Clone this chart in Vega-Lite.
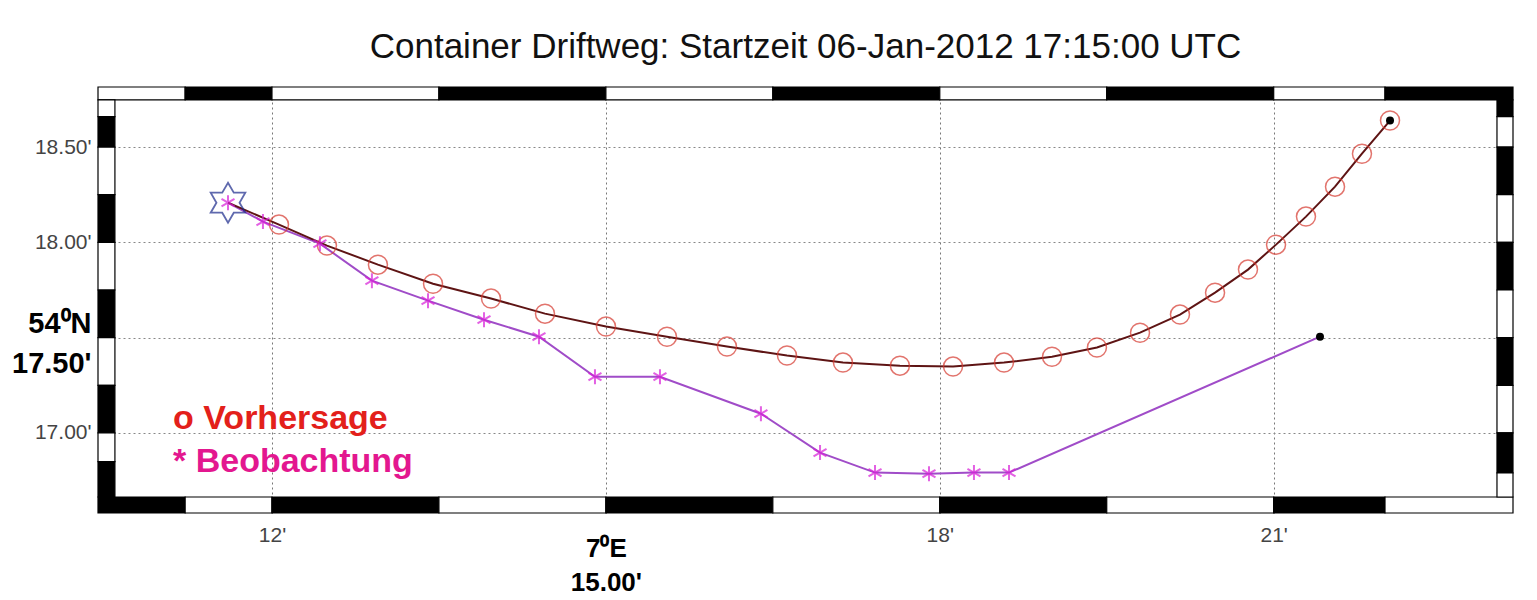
{
  "$schema": "https://vega.github.io/schema/vega-lite/v6.json",
  "width": 1415,
  "height": 426,
  "autosize": {"type": "none"},
  "padding": {"left": 98, "top": 87, "right": 24, "bottom": 87},
  "background": "white",
  "config": {"view": {"stroke": null}, "font": "Liberation Sans"},
  "title": {
    "text": "Container Driftweg: Startzeit 06-Jan-2012 17:15:00 UTC",
    "font": "Liberation Sans",
    "fontSize": 35,
    "fontWeight": "normal",
    "color": "#111111",
    "anchor": "middle",
    "baseline": "alphabetic",
    "offset": -7
  },
  "datasets": {
    "track": [
      {"series": "Vorhersage", "step": 0, "lon": 11.605, "lat": 18.208},
      {"series": "Vorhersage", "step": 1, "lon": 12.063, "lat": 18.093},
      {"series": "Vorhersage", "step": 2, "lon": 12.494, "lat": 17.983},
      {"series": "Vorhersage", "step": 3, "lon": 12.952, "lat": 17.883},
      {"series": "Vorhersage", "step": 4, "lon": 13.447, "lat": 17.783},
      {"series": "Vorhersage", "step": 5, "lon": 13.968, "lat": 17.705},
      {"series": "Vorhersage", "step": 6, "lon": 14.453, "lat": 17.626},
      {"series": "Vorhersage", "step": 7, "lon": 15.001, "lat": 17.558},
      {"series": "Vorhersage", "step": 8, "lon": 15.549, "lat": 17.505},
      {"series": "Vorhersage", "step": 9, "lon": 16.088, "lat": 17.453},
      {"series": "Vorhersage", "step": 10, "lon": 16.627, "lat": 17.406},
      {"series": "Vorhersage", "step": 11, "lon": 17.13, "lat": 17.369},
      {"series": "Vorhersage", "step": 12, "lon": 17.642, "lat": 17.353},
      {"series": "Vorhersage", "step": 13, "lon": 18.119, "lat": 17.348},
      {"series": "Vorhersage", "step": 14, "lon": 18.577, "lat": 17.369},
      {"series": "Vorhersage", "step": 15, "lon": 19.008, "lat": 17.4},
      {"series": "Vorhersage", "step": 16, "lon": 19.412, "lat": 17.448},
      {"series": "Vorhersage", "step": 17, "lon": 19.799, "lat": 17.526},
      {"series": "Vorhersage", "step": 18, "lon": 20.158, "lat": 17.621},
      {"series": "Vorhersage", "step": 19, "lon": 20.473, "lat": 17.736},
      {"series": "Vorhersage", "step": 20, "lon": 20.769, "lat": 17.857},
      {"series": "Vorhersage", "step": 21, "lon": 21.021, "lat": 17.988},
      {"series": "Vorhersage", "step": 22, "lon": 21.29, "lat": 18.135},
      {"series": "Vorhersage", "step": 23, "lon": 21.551, "lat": 18.292},
      {"series": "Vorhersage", "step": 24, "lon": 21.793, "lat": 18.465},
      {"series": "Vorhersage", "step": 25, "lon": 22.045, "lat": 18.639},
      {"series": "Beobachtung", "step": 0, "lon": 11.605, "lat": 18.208},
      {"series": "Beobachtung", "step": 1, "lon": 11.919, "lat": 18.109},
      {"series": "Beobachtung", "step": 2, "lon": 12.431, "lat": 17.993},
      {"series": "Beobachtung", "step": 3, "lon": 12.898, "lat": 17.799},
      {"series": "Beobachtung", "step": 4, "lon": 13.402, "lat": 17.694},
      {"series": "Beobachtung", "step": 5, "lon": 13.905, "lat": 17.594},
      {"series": "Beobachtung", "step": 6, "lon": 14.399, "lat": 17.505},
      {"series": "Beobachtung", "step": 7, "lon": 14.902, "lat": 17.295},
      {"series": "Beobachtung", "step": 8, "lon": 15.486, "lat": 17.295},
      {"series": "Beobachtung", "step": 9, "lon": 16.393, "lat": 17.101},
      {"series": "Beobachtung", "step": 10, "lon": 16.924, "lat": 16.897},
      {"series": "Beobachtung", "step": 11, "lon": 17.418, "lat": 16.792},
      {"series": "Beobachtung", "step": 12, "lon": 17.903, "lat": 16.786},
      {"series": "Beobachtung", "step": 13, "lon": 18.307, "lat": 16.792},
      {"series": "Beobachtung", "step": 14, "lon": 18.622, "lat": 16.792},
      {"series": "Beobachtung", "step": 15, "lon": 21.416, "lat": 17.505}
    ],
    "frame": [
      {"lon1": 10.437, "lon2": 11.22, "lat1": 18.747, "lat2": 18.815, "band": "light"},
      {"lon1": 11.22, "lon2": 12, "lat1": 18.747, "lat2": 18.815, "band": "dark"},
      {"lon1": 12, "lon2": 13.5, "lat1": 18.747, "lat2": 18.815, "band": "light"},
      {"lon1": 13.5, "lon2": 15, "lat1": 18.747, "lat2": 18.815, "band": "dark"},
      {"lon1": 15, "lon2": 16.5, "lat1": 18.747, "lat2": 18.815, "band": "light"},
      {"lon1": 16.5, "lon2": 18, "lat1": 18.747, "lat2": 18.815, "band": "dark"},
      {"lon1": 18, "lon2": 19.5, "lat1": 18.747, "lat2": 18.815, "band": "light"},
      {"lon1": 19.5, "lon2": 21, "lat1": 18.747, "lat2": 18.815, "band": "dark"},
      {"lon1": 21, "lon2": 22, "lat1": 18.747, "lat2": 18.815, "band": "light"},
      {"lon1": 22, "lon2": 23.15, "lat1": 18.747, "lat2": 18.815, "band": "dark"},
      {"lon1": 10.437, "lon2": 11.22, "lat1": 16.58, "lat2": 16.664, "band": "dark"},
      {"lon1": 11.22, "lon2": 12, "lat1": 16.58, "lat2": 16.664, "band": "light"},
      {"lon1": 12, "lon2": 13.5, "lat1": 16.58, "lat2": 16.664, "band": "dark"},
      {"lon1": 13.5, "lon2": 15, "lat1": 16.58, "lat2": 16.664, "band": "light"},
      {"lon1": 15, "lon2": 16.5, "lat1": 16.58, "lat2": 16.664, "band": "dark"},
      {"lon1": 16.5, "lon2": 18, "lat1": 16.58, "lat2": 16.664, "band": "light"},
      {"lon1": 18, "lon2": 19.5, "lat1": 16.58, "lat2": 16.664, "band": "dark"},
      {"lon1": 19.5, "lon2": 21, "lat1": 16.58, "lat2": 16.664, "band": "light"},
      {"lon1": 21, "lon2": 22, "lat1": 16.58, "lat2": 16.664, "band": "dark"},
      {"lon1": 22, "lon2": 23.15, "lat1": 16.58, "lat2": 16.664, "band": "light"},
      {"lon1": 10.437, "lon2": 10.589, "lat1": 18.66, "lat2": 18.747, "band": "light"},
      {"lon1": 10.437, "lon2": 10.589, "lat1": 18.5, "lat2": 18.66, "band": "dark"},
      {"lon1": 10.437, "lon2": 10.589, "lat1": 18.25, "lat2": 18.5, "band": "light"},
      {"lon1": 10.437, "lon2": 10.589, "lat1": 18, "lat2": 18.25, "band": "dark"},
      {"lon1": 10.437, "lon2": 10.589, "lat1": 17.75, "lat2": 18, "band": "light"},
      {"lon1": 10.437, "lon2": 10.589, "lat1": 17.5, "lat2": 17.75, "band": "dark"},
      {"lon1": 10.437, "lon2": 10.589, "lat1": 17.25, "lat2": 17.5, "band": "light"},
      {"lon1": 10.437, "lon2": 10.589, "lat1": 17, "lat2": 17.25, "band": "dark"},
      {"lon1": 10.437, "lon2": 10.589, "lat1": 16.85, "lat2": 17, "band": "light"},
      {"lon1": 10.437, "lon2": 10.589, "lat1": 16.664, "lat2": 16.85, "band": "dark"},
      {"lon1": 23.006, "lon2": 23.15, "lat1": 18.66, "lat2": 18.747, "band": "dark"},
      {"lon1": 23.006, "lon2": 23.15, "lat1": 18.5, "lat2": 18.66, "band": "light"},
      {"lon1": 23.006, "lon2": 23.15, "lat1": 18.25, "lat2": 18.5, "band": "dark"},
      {"lon1": 23.006, "lon2": 23.15, "lat1": 18, "lat2": 18.25, "band": "light"},
      {"lon1": 23.006, "lon2": 23.15, "lat1": 17.75, "lat2": 18, "band": "dark"},
      {"lon1": 23.006, "lon2": 23.15, "lat1": 17.5, "lat2": 17.75, "band": "light"},
      {"lon1": 23.006, "lon2": 23.15, "lat1": 17.25, "lat2": 17.5, "band": "dark"},
      {"lon1": 23.006, "lon2": 23.15, "lat1": 17, "lat2": 17.25, "band": "light"},
      {"lon1": 23.006, "lon2": 23.15, "lat1": 16.79, "lat2": 17, "band": "dark"},
      {"lon1": 23.006, "lon2": 23.15, "lat1": 16.664, "lat2": 16.79, "band": "light"}
    ]
  },
  "layer": [
    {
      "data": {"name": "frame"},
      "mark": {"type": "rect", "stroke": "black", "strokeWidth": 1.2},
      "encoding": {
        "x": {
          "field": "lon1", "type": "quantitative",
          "scale": {"domain": [10.437, 23.15], "nice": false, "zero": false},
          "axis": {
            "orient": "bottom", "title": null, "values": [12, 15, 18, 21],
            "grid": true, "gridColor": "#777777", "gridDash": [2, 3], "gridWidth": 1,
            "ticks": false, "domain": false,
            "labelExpr": "datum.value == 15 ? ['7⁰E', '15.00\\''] : datum.value + '\\''",
            "labelFont": "Liberation Sans",
            "labelFontSize": {"condition": {"test": "datum.value == 15", "value": 26}, "value": 21},
            "labelFontWeight": {"condition": {"test": "datum.value == 15", "value": "bold"}, "value": "normal"},
            "labelColor": {"condition": {"test": "datum.value == 15", "value": "#000000"}, "value": "#444444"},
            "labelPadding": {"condition": {"test": "datum.value == 15", "value": 22}, "value": 11},
            "labelBaseline": "top", "labelLineHeight": 34,
            "labelFlush": false, "labelOverlap": false
          }
        },
        "x2": {"field": "lon2"},
        "y": {
          "field": "lat1", "type": "quantitative",
          "scale": {"domain": [16.58, 18.815], "nice": false, "zero": false},
          "axis": {
            "title": null, "values": [17, 17.5, 18, 18.5],
            "grid": true, "gridColor": "#888888", "gridDash": [2, 3], "gridWidth": 1,
            "ticks": false, "domain": false,
            "labelExpr": "datum.value == 17.5 ? ['54⁰N', '17.50\\''] : format(datum.value, '.2f') + '\\''",
            "labelFont": "Liberation Sans",
            "labelFontSize": {"condition": {"test": "datum.value == 17.5", "value": 29}, "value": 21},
            "labelFontWeight": {"condition": {"test": "datum.value == 17.5", "value": "bold"}, "value": "normal"},
            "labelColor": {"condition": {"test": "datum.value == 17.5", "value": "#000000"}, "value": "#444444"},
            "labelOffset": {"condition": {"test": "datum.value == 17.5", "value": -14}, "value": 0},
            "labelPadding": 7, "labelLineHeight": 40,
            "labelFlush": false, "labelOverlap": false
          }
        },
        "y2": {"field": "lat2"},
        "fill": {
          "field": "band", "type": "nominal",
          "scale": {"domain": ["dark", "light"], "range": ["#000000", "#ffffff"]},
          "legend": null
        }
      }
    },
    {
      "data": {"name": "track"},
      "transform": [{"filter": "datum.series == 'Beobachtung'"}],
      "mark": {"type": "line", "color": "#a04cc8", "strokeWidth": 2},
      "encoding": {
        "x": {"field": "lon", "type": "quantitative"},
        "y": {"field": "lat", "type": "quantitative"},
        "order": {"field": "step", "type": "quantitative"}
      }
    },
    {
      "data": {"name": "track"},
      "transform": [{"filter": "datum.series == 'Vorhersage'"}],
      "mark": {"type": "line", "color": "#5e1414", "strokeWidth": 2},
      "encoding": {
        "x": {"field": "lon", "type": "quantitative"},
        "y": {"field": "lat", "type": "quantitative"},
        "order": {"field": "step", "type": "quantitative"}
      }
    },
    {
      "data": {"name": "track"},
      "transform": [{"filter": "datum.series == 'Vorhersage' && datum.step > 0"}],
      "mark": {"type": "point", "shape": "circle", "filled": false, "size": 361, "strokeWidth": 1.5},
      "encoding": {
        "x": {"field": "lon", "type": "quantitative"},
        "y": {"field": "lat", "type": "quantitative"},
        "color": {
          "field": "series", "type": "nominal",
          "scale": {"domain": ["Vorhersage", "Beobachtung"], "range": ["#d63a30", "#d81fd8"]},
          "legend": {
            "title": null, "orient": "bottom-left", "offset": 30, "padding": 4,
            "labelFont": "Liberation Sans", "labelFontSize": 34, "labelFontWeight": "bold",
            "labelLimit": 500, "symbolOpacity": 0, "symbolSize": 1, "symbolStrokeWidth": 0,
            "labelOffset": 7, "rowPadding": 9,
            "labelExpr": "datum.label == 'Vorhersage' ? 'o Vorhersage' : '* Beobachtung'",
            "labelColor": {"expr": "datum.value == 'Vorhersage' ? '#e3201b' : '#e3178f'"}
          }
        }
      }
    },
    {
      "data": {"name": "track"},
      "transform": [{"filter": "datum.series == 'Beobachtung' && datum.step < 15"}],
      "mark": {"type": "point", "shape": "M0,-1L0,1M-0.866,-0.5L0.866,0.5M-0.866,0.5L0.866,-0.5", "filled": false, "size": 225, "strokeWidth": 2},
      "encoding": {
        "x": {"field": "lon", "type": "quantitative"},
        "y": {"field": "lat", "type": "quantitative"},
        "color": {"field": "series", "type": "nominal"}
      }
    },
    {
      "data": {"name": "track"},
      "transform": [{"filter": "(datum.series == 'Vorhersage' && datum.step == 25) || (datum.series == 'Beobachtung' && datum.step == 15)"}],
      "mark": {"type": "point", "shape": "circle", "filled": true, "color": "#000000", "size": 64, "opacity": 1},
      "encoding": {
        "x": {"field": "lon", "type": "quantitative"},
        "y": {"field": "lat", "type": "quantitative"}
      }
    },
    {
      "data": {"name": "track"},
      "transform": [{"filter": "datum.series == 'Beobachtung' && datum.step == 0"}],
      "mark": {"type": "point", "shape": "M0,-1L0.289,-0.5L0.866,-0.5L0.577,0L0.866,0.5L0.289,0.5L0,1L-0.289,0.5L-0.866,0.5L-0.577,0L-0.866,-0.5L-0.289,-0.5Z", "filled": false, "color": "#1c2a8c", "size": 1600, "strokeWidth": 1.8},
      "encoding": {
        "x": {"field": "lon", "type": "quantitative"},
        "y": {"field": "lat", "type": "quantitative"}
      }
    }
  ]
}
